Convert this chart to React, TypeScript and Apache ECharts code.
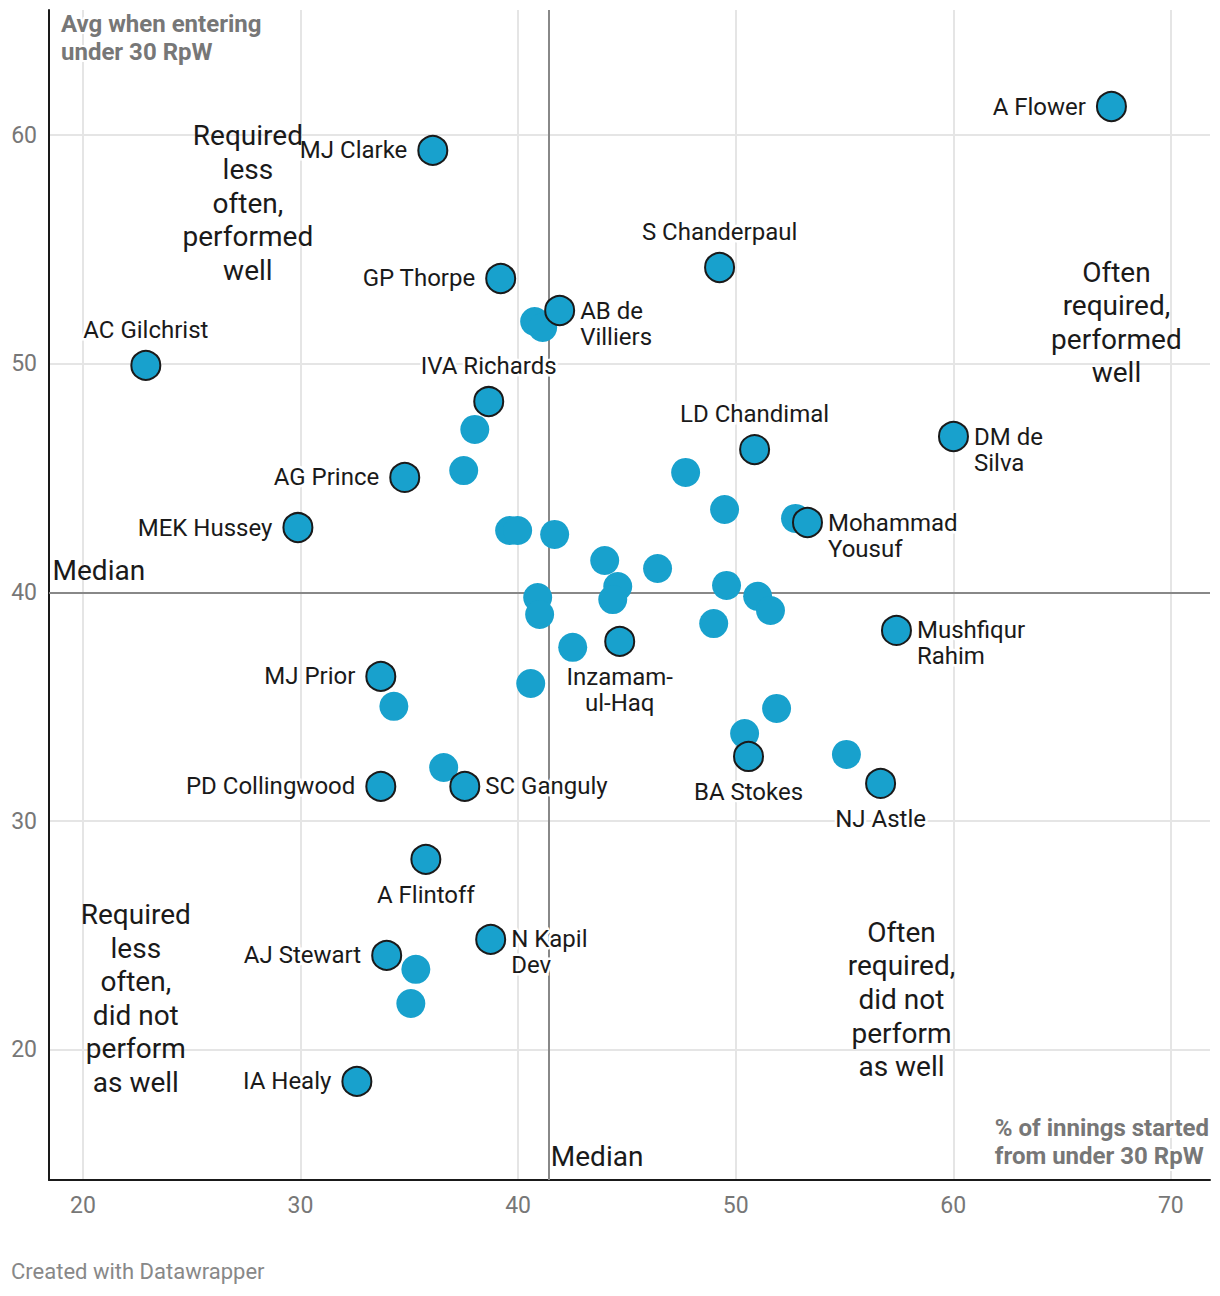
import { useEffect, useRef } from "react";
import * as echarts from "echarts";

// ---- Data ----
const xTicks = [20, 30, 40, 50, 60, 70];
const yTicks = [20, 30, 40, 50, 60];
const medianPct = 41.4;
const medianAvg = 40;

const labeledNames = [
  "A Flower", "MJ Clarke", "S Chanderpaul", "GP Thorpe", "AB de\nVilliers",
  "AC Gilchrist", "IVA Richards", "LD Chandimal", "DM de\nSilva", "AG Prince",
  "MEK Hussey", "Mohammad\nYousuf", "Mushfiqur\nRahim", "Inzamam-\nul-Haq", "MJ Prior",
  "PD Collingwood", "SC Ganguly", "BA Stokes", "NJ Astle", "A Flintoff",
  "N Kapil\nDev", "AJ Stewart", "IA Healy",
];
const labeledPct = [
  67.27, 36.08, 49.26, 39.2, 41.91,
  22.89, 38.65, 50.87, 60.01, 34.79,
  29.88, 53.3, 57.39, 44.67, 33.69,
  33.69, 37.55, 50.59, 56.66, 35.76,
  38.74, 33.96, 32.59,
];
const labeledAvg = [
  61.25, 59.33, 54.21, 53.73, 52.33,
  49.93, 48.35, 46.25, 46.82, 45.03,
  42.84, 43.06, 38.34, 37.86, 36.33,
  31.52, 31.52, 32.83, 31.65, 28.33,
  24.83, 24.13, 18.62,
];

const otherPct = [
  40.76, 41.13, 38.01, 37.5, 39.61, 39.98, 41.68, 47.7, 49.49, 52.75,
  43.98, 46.41, 44.58, 44.35, 40.9, 40.99, 49.58, 51.01, 51.6, 48.99,
  42.51, 40.58, 51.88, 50.41, 34.29, 36.58, 55.09, 35.3, 35.07,
];
const otherAvg = [
  51.85, 51.59, 47.13, 45.33, 42.71, 42.71, 42.54, 45.25, 43.63, 43.24,
  41.4, 41.05, 40.26, 39.69, 39.78, 39.04, 40.31, 39.83, 39.21, 38.64,
  37.6, 36.02, 34.93, 33.83, 35.02, 32.35, 32.92, 23.52, 22.03,
];

const quadrantTexts = [
  "Required\nless\noften,\nperformed\nwell",
  "Often\nrequired,\nperformed\nwell",
  "Required\nless\noften,\ndid not\nperform\nas well",
  "Often\nrequired,\ndid not\nperform\nas well",
];
const quadrantPct = [27.58, 67.5, 22.43, 57.62];
const quadrantAvg = [57.03, 51.81, 22.25, 22.2];

const medianTextPct = [18.58, 41.48];
const medianTextAvg = [40.96, 15.34];

// ---- Label placement (style) ----
const placement: Record<string, string> = {
  "A Flower": "left", "MJ Clarke": "left", "GP Thorpe": "left", "AG Prince": "left",
  "MEK Hussey": "left", "MJ Prior": "left", "PD Collingwood": "left", "AJ Stewart": "left",
  "IA Healy": "left",
  "S Chanderpaul": "top", "AC Gilchrist": "top", "IVA Richards": "top", "LD Chandimal": "top",
  "AB de\nVilliers": "right2", "DM de\nSilva": "right2", "Mohammad\nYousuf": "right2",
  "Mushfiqur\nRahim": "right2", "N Kapil\nDev": "right2", "SC Ganguly": "right",
  "Inzamam-\nul-Haq": "bottom", "BA Stokes": "bottom", "NJ Astle": "bottom", "A Flintoff": "bottom",
};

const FONT = "Roboto";
const BLUE = "#18a1cd";
const INK = "#1a1a1a";

function labelFor(name: string) {
  const p = placement[name] || "right";
  if (p === "left") return { position: "left", distance: 10 };
  if (p === "top") return { position: "top", distance: 7 };
  if (p === "bottom") return { position: "bottom", distance: 7 };
  if (p === "right2") return { position: "right", distance: 5, offset: [0, 13] };
  return { position: "right", distance: 5 };
}

function buildOption() {
  const axisLabelBase = { color: "#777", fontSize: 23, fontFamily: FONT };
  return {
    animation: false,
    grid: { left: 49, right: 10, top: 10, bottom: 116, containLabel: false, outerBoundsMode: "none" },
    xAxis: {
      type: "value",
      min: 18.44,
      max: 71.8,
      axisLine: { show: true, onZero: false, lineStyle: { color: INK, width: 2 } },
      axisTick: { show: false, customValues: xTicks },
      axisLabel: { ...axisLabelBase, customValues: xTicks, margin: 14 },
      splitLine: { show: true, lineStyle: { color: "#e5e5e5", width: 2 } },
    },
    yAxis: {
      type: "value",
      min: 14.31,
      max: 65.47,
      axisLine: { show: true, onZero: false, lineStyle: { color: INK, width: 2 } },
      axisTick: { show: false, customValues: yTicks },
      axisLabel: { ...axisLabelBase, customValues: yTicks, margin: 12 },
      splitLine: { show: true, lineStyle: { color: "#e5e5e5", width: 2 } },
    },
    graphic: [
      {
        type: "text",
        left: 59,
        top: 10,
        z: 10,
        style: {
          text: "Avg when entering\nunder 30 RpW",
          font: `bold 24px ${FONT}`,
          fill: "#777",
          lineHeight: 28,
          stroke: "#fff",
          lineWidth: 4,
        },
      },
      {
        type: "text",
        right: 9,
        top: 1114,
        z: 10,
        style: {
          text: "% of innings started\nfrom under 30 RpW",
          font: `bold 24px ${FONT}`,
          fill: "#777",
          lineHeight: 28,
          align: "right",
          stroke: "#fff",
          lineWidth: 4,
        },
      },
      {
        type: "text",
        left: 11,
        top: 1260,
        style: {
          text: "Created with Datawrapper",
          font: `22px ${FONT}`,
          fill: "#888",
        },
      },
    ],
    series: [
      {
        type: "scatter",
        name: "others",
        z: 2,
        symbolSize: 29,
        itemStyle: { color: BLUE, opacity: 1 },
        data: otherPct.map((x, i) => [x, otherAvg[i]]),
        silent: true,
        markLine: {
          silent: true,
          z: 1,
          symbol: ["none", "none"],
          label: { show: false },
          lineStyle: { color: "#888", width: 2, type: "solid" },
          data: [{ xAxis: medianPct }, { yAxis: medianAvg }],
        },
      },
      {
        type: "scatter",
        name: "labeled",
        z: 3,
        symbolSize: 29,
        itemStyle: { color: BLUE, borderColor: INK, borderWidth: 2, opacity: 1 },
        silent: true,
        label: {
          show: true,
          formatter: "{b}",
          color: INK,
          fontSize: 24,
          fontFamily: FONT,
          lineHeight: 26,
          textBorderColor: "#fff",
          textBorderWidth: 5,
        },
        data: labeledNames.map((n, i) => ({
          name: n,
          value: [labeledPct[i], labeledAvg[i]],
          label: labelFor(n),
        })),
      },
      {
        type: "scatter",
        name: "annotations",
        z: 4,
        symbolSize: 1,
        silent: true,
        itemStyle: { color: "rgba(0,0,0,0)", opacity: 1 },
        label: {
          show: true,
          formatter: "{b}",
          color: INK,
          fontSize: 28,
          fontFamily: FONT,
          lineHeight: 33.6,
          position: "inside",
          align: "center",
          verticalAlign: "middle",
          textBorderWidth: 0,
        },
        data: [
          ...quadrantTexts.map((t, i) => ({ name: t, value: [quadrantPct[i], quadrantAvg[i]] })),
          ...medianTextPct.map((x, i) => ({
            name: "Median",
            value: [x, medianTextAvg[i]],
            label: { position: "right", distance: 0, align: "left" },
          })),
        ],
      },
    ],
  };
}

export default function App() {
  const ref = useRef<HTMLDivElement>(null);
  useEffect(() => {
    document.body.style.margin = "0";
    const chart = echarts.init(ref.current!, null, { renderer: "svg" });
    chart.setOption(buildOption() as any);
    return () => chart.dispose();
  }, []);
  return <div ref={ref} style={{ width: 1220, height: 1296 }} />;
}
